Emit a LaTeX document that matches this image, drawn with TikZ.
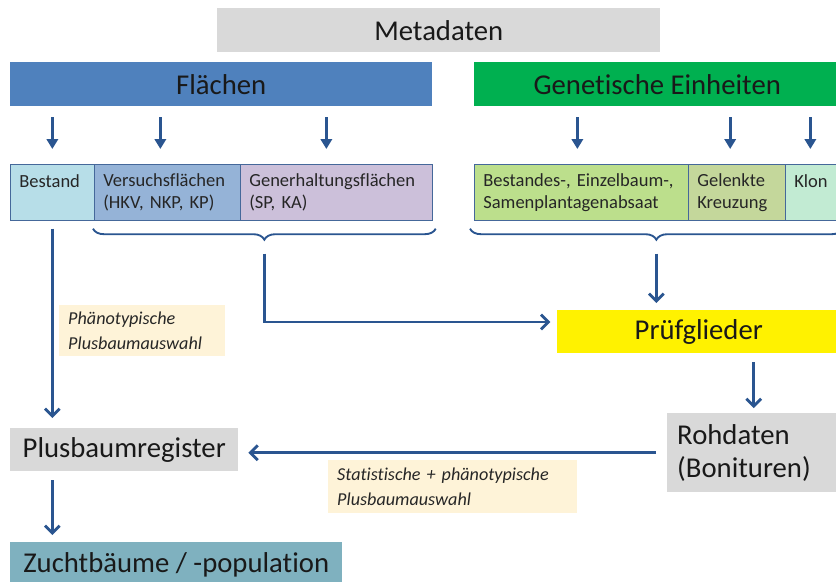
\documentclass[tikz,border=0pt]{standalone}
\usepackage{fontspec}
\setmainfont{Carlito}[Ligatures=NoCommon]
\usepackage{tikz}
\usetikzlibrary{arrows.meta,decorations.pathreplacing,calc}

\definecolor{lineblue}{HTML}{2A5590}
\definecolor{rowline}{HTML}{45689A}
\definecolor{metagray}{HTML}{D9D9D9}
\definecolor{flaechenblue}{HTML}{4F81BD}
\definecolor{genetikgreen}{HTML}{00B050}
\definecolor{bestandcyan}{HTML}{B7DEE8}
\definecolor{versuchblue}{HTML}{95B3D7}
\definecolor{generhlila}{HTML}{CCC0DA}
\definecolor{absaatgreen}{HTML}{BCDF8C}
\definecolor{kreuzolive}{HTML}{C4D79B}
\definecolor{klonmint}{HTML}{C2EBD3}
\definecolor{zuchtteal}{HTML}{7FB1BF}
\definecolor{notecream}{HTML}{FEF3D8}

\begin{document}
\begin{tikzpicture}[x=0.3mm,y=-0.3mm]
            \tikzset{bigbox/.style={anchor=north west,inner sep=0pt,text=black!90,
                       font=\fontsize{24.5}{29}\selectfont}};
            \tikzset{rowbox/.style={anchor=north west,draw=rowline,line width=0.6pt,
                       inner xsep=2.7mm,inner ysep=0pt,align=left,minimum height=16.8mm,
                       text=black!85,font=\fontsize{15.8}{19}\selectfont}};
            \tikzset{notebox/.style={anchor=north west,fill=notecream,inner xsep=2.7mm,
                       inner ysep=0pt,align=left,text=black!85,
                       font=\itshape\fontsize{15.5}{21.3}\selectfont}};
            \tikzset{droparrow/.style={draw=lineblue,line width=2.4pt,
                       -{Triangle[length=3mm,width=3.4mm]}}};
            \tikzset{flowline/.style={draw=lineblue,line width=2.4pt,
                       -{Straight Barb[length=2.2mm,width=4.4mm]}}};
            \tikzset{bracestyle/.style={draw=lineblue,line width=1.6pt,decorate,
                       decoration={brace,mirror,amplitude=3.3mm}}};

            \useasboundingbox (0,0) rectangle (836,581);

            % headers
            \node[bigbox,fill=metagray,minimum width=132.9mm,minimum height=13.2mm]
                 (meta) at (217,8) {Metadaten};
            \node[bigbox,fill=flaechenblue,minimum width=126.6mm,minimum height=13.2mm]
                 (flaechen) at (10,62) {Flächen};
            \node[bigbox,fill=genetikgreen,minimum width=109.8mm,minimum height=13.2mm]
                 (genetik) at (474,62) {Genetische Einheiten};

            % rows
            \node[rowbox,fill=bestandcyan,text width=19.8mm] (bestand) at (10,164)
                 {Bestand\\\mbox{}};
            \node[rowbox,fill=versuchblue,text width=38.4mm] (versuch) at (94,164)
                 {Versuchsflächen\\(HKV, NKP, KP)};
            \node[rowbox,fill=generhlila,text width=52.2mm] (generh) at (240,164)
                 {Generhaltungsflächen\\(SP, KA)};
            \node[rowbox,fill=absaatgreen,text width=58.8mm] (absaat) at (474,164)
                 {Bestandes-, Einzelbaum-,\\Samenplantagenabsaat};
            \node[rowbox,fill=kreuzolive,text width=23.7mm] (kreuzung) at (688,164)
                 {Gelenkte\\Kreuzung};
            \node[rowbox,fill=klonmint,text width=12.6mm] (klon) at (785,164)
                 {Klon\\\mbox{}};

            \draw[droparrow] ([yshift=-3.3mm]flaechen.south -| bestand.north)
                 -- ([yshift=4.5mm]bestand.north);
            \draw[droparrow] ([xshift=-2.1mm,yshift=-3.3mm]flaechen.south -| versuch.north)
                 -- ([xshift=-2.1mm,yshift=4.5mm]versuch.north);
            \draw[droparrow] ([xshift=-3mm,yshift=-3.3mm]flaechen.south -| generh.north)
                 -- ([xshift=-3mm,yshift=4.5mm]generh.north);
            \draw[droparrow] ([xshift=-1.2mm,yshift=-3.3mm]genetik.south -| absaat.north)
                 -- ([xshift=-1.2mm,yshift=4.5mm]absaat.north);
            \draw[droparrow] ([xshift=-2mm,yshift=-3.3mm]genetik.south -| kreuzung.north)
                 -- ([xshift=-2mm,yshift=4.5mm]kreuzung.north);
            \draw[droparrow] ([xshift=-1.5mm,yshift=-3.3mm]genetik.south -| klon.north)
                 -- ([xshift=-1.5mm,yshift=4.5mm]klon.north);

            % braces
            \coordinate (bracel1) at ([xshift=-0.3mm,yshift=-2.4mm]versuch.south west);
            \coordinate (bracel2) at ([xshift=0.9mm,yshift=-2.4mm]generh.south east);
            \coordinate (bracer1) at ([xshift=-1.2mm,yshift=-2.4mm]absaat.south west);
            \coordinate (bracer2) at ([xshift=-0.9mm,yshift=-2.4mm]klon.south east);
            \draw[bracestyle] (bracel1) -- (bracel2);
            \draw[bracestyle] (bracer1) -- (bracer2);
            \coordinate (tipl) at ($(bracel1)!0.5!(bracel2)+(0,25)$);
            \coordinate (tipr) at ($(bracer1)!0.5!(bracer2)+(0,25)$);

            % lower part
            \node[bigbox,fill=yellow,minimum width=84.9mm,minimum height=12.9mm]
                 (pruef) at (557,310) {Prüfglieder};
            \node[bigbox,fill=metagray,minimum width=51.9mm,minimum height=23.7mm,
                  inner xsep=3mm,text width=45.9mm,align=left,
                  font=\fontsize{24.5}{28}\selectfont] (rohdaten) at (667,413)
                 {Rohdaten\\(Bonituren)};
            \node[bigbox,fill=metagray,minimum width=68.4mm,minimum height=12.9mm]
                 (plusreg) at (10,428) {Plusbaumregister};
            \node[bigbox,fill=zuchtteal,minimum width=99.6mm,minimum height=13.5mm]
                 (zucht) at (10,542) {Zuchtbäume / -population};

            \node[notebox,text width=44.4mm,minimum height=15.3mm] (phaeno) at (59,305)
                 {Phänotypische\\Plusbaumauswahl};
            \node[notebox,text width=69.3mm,minimum height=15.9mm] (statnote) at (328,460)
                 {Statistische + phänotypische\\Plusbaumauswahl};

            \draw[flowline] ([yshift=-2.4mm]bestand.south)
                 -- ([yshift=3mm]bestand.south |- plusreg.north);
            \draw[flowline] (tipl) -- (tipl |- 0,322) -- ([xshift=-2mm]pruef.west |- 0,322);
            \draw[flowline] (tipr) -- ([yshift=2.1mm]tipr |- pruef.north);
            \draw[flowline] ([yshift=-2.7mm]pruef.south -| rohdaten.north)
                 -- ([yshift=1.5mm]rohdaten.north);
            \draw[flowline] ([xshift=-3.3mm]rohdaten.west)
                 -- ([xshift=3mm]rohdaten.west -| plusreg.east);
            \draw[flowline] ([yshift=-2.7mm]plusreg.south -| bestand.south)
                 -- ([yshift=2.1mm]zucht.north -| bestand.south);

          \end{tikzpicture}
\end{document}
